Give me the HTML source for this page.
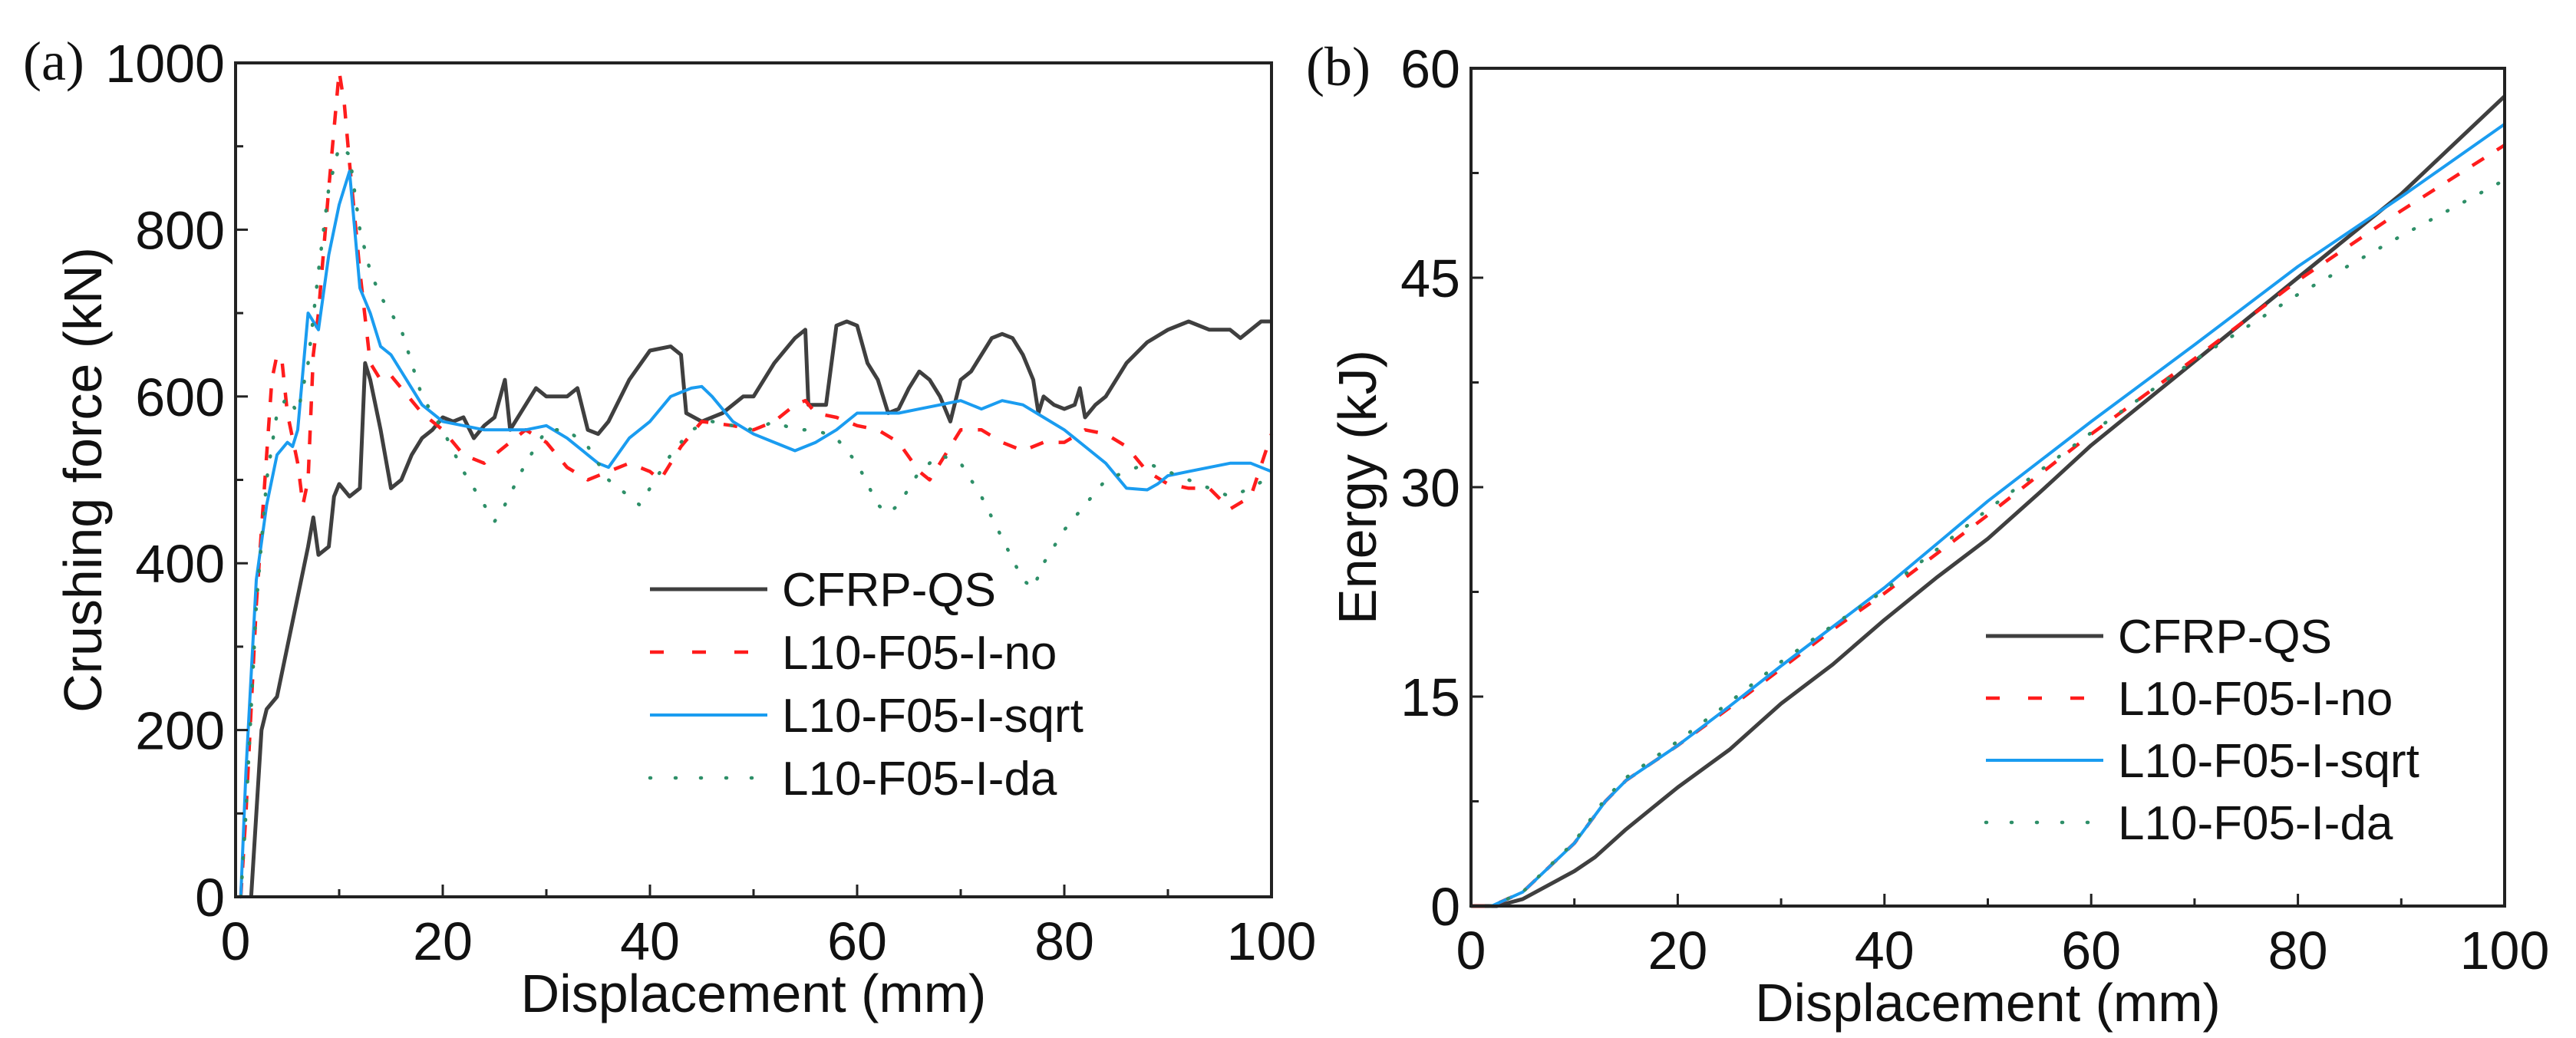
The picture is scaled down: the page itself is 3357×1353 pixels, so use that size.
<!DOCTYPE html>
<html><head><meta charset="utf-8">
<style>
html,body{margin:0;padding:0;background:#fff;}
svg{display:block;}
text{font-family:"Liberation Sans",Arial,sans-serif;fill:#111;}
.serif{font-family:"Liberation Serif",serif;}
</style></head>
<body>
<svg id="fig" width="3357" height="1353" viewBox="0 0 3357 1353" xmlns="http://www.w3.org/2000/svg">
<g id="pa"></g>
<g id="pb"></g>
</svg>
<script>
// ---- Panel (a) data: crushing force (kN) vs displacement (mm) ----
const seriesNames = ["CFRP-QS","L10-F05-I-no","L10-F05-I-sqrt","L10-F05-I-da"];
const xTicks = [0,20,40,60,80,100];
const forceTicks = [0,200,400,600,800,1000];
const energyTicks = [0,15,30,45,60];

const qsX = [1.5,2.5,3,4,5,6,7,7.5,8,9,9.5,10,11,12,12.5,13,14,15,16,17,18,19,20,21,22,23,24,25,26,26.5,28,29,30,32,33,34,35,36,38,40,42,43,43.5,45,47,49,50,52,54,55,55.3,57,58,59,60,61,62,63,64,65,66,67,68,69,70,71,72,73,74,75,76,77,77.5,78,79,80,81,81.5,82,83,84,85,86,88,90,92,94,96,97,99,100];
const qsF = [0,200,225,240,300,360,420,455,410,420,480,495,480,490,640,620,560,490,500,530,550,560,575,570,575,550,565,575,620,560,590,610,600,600,610,560,555,570,620,655,660,650,580,570,580,600,600,640,670,680,590,590,685,690,685,640,620,580,585,610,630,620,600,570,620,630,650,670,675,670,650,620,580,600,590,585,590,610,575,590,600,620,640,665,680,690,680,680,670,690,690];

const noX = [0.5,1,2,3,3.5,4,4.5,5,6,6.5,7,7.5,8,9,10,10.5,11,12,13,14,15,16,18,20,22,24,26,28,30,32,34,36,38,40,41,43,45,48,50,52,54,55,56,58,60,62,64,66,67,68,70,72,74,76,78,80,82,84,86,88,90,92,94,96,98,100];
const noF = [0,100,350,530,620,650,640,580,520,470,500,650,700,850,990,950,880,750,640,620,625,610,580,560,530,520,540,560,545,515,500,510,520,510,500,540,570,565,560,570,590,595,580,575,565,560,545,510,500,520,560,560,545,535,545,545,560,555,540,510,495,490,490,465,480,555];

const sqX = [0.5,1,2,3,4,5,5.5,6,7,7.5,8,9,10,11,11.5,12,13,14,15,17,18,20,22,24,26,28,30,32,34,35,36,38,40,42,44,45,46,48,50,52,54,56,58,60,62,64,66,68,70,72,74,76,78,80,82,84,86,88,89,90,92,94,96,98,100];
const sqF = [0,150,380,470,530,545,540,560,700,690,680,770,830,870,800,730,700,660,650,610,590,570,565,560,560,560,565,550,530,520,515,550,570,600,610,612,600,570,555,545,535,545,560,580,580,580,585,590,595,585,595,590,575,560,540,520,490,488,495,505,510,515,520,520,510];

const daX = [0.5,1,2,3,4,5,6,7,8,9,10,11,12,13,14,16,18,20,22,24,25,26,28,30,32,34,36,38,39,40,42,44,46,48,50,52,54,56,58,60,62,63,64,66,68,70,72,74,76,77,78,80,82,84,86,88,90,92,94,96,98,100];
const daF = [0,100,350,500,580,600,580,640,750,850,900,890,800,750,720,680,600,560,510,470,450,470,520,560,560,540,500,480,470,490,530,560,570,565,560,570,560,560,550,520,470,460,470,510,530,520,480,430,380,370,400,440,470,500,510,520,510,500,490,480,490,505];

// ---- Panel (b) data: energy (kJ) vs displacement (mm) ----
const eqsX = [0,2.5,5,10,12,15,20,25,30,35,40,45,50,55,60,65,70,75,80,85,90,95,100];
const eqsE = [0,0,0.5,2.5,3.5,5.5,8.5,11.2,14.5,17.3,20.5,23.5,26.3,29.6,33,36,39,42,45,48,51,54.5,58];
const enoX = [0,2,5,10,13,15,20,25,30,35,40,50,60,70,80,90,100];
const enoE = [0,0,1,4.5,7.5,9,11.5,14.2,17,19.8,22.4,28,33.8,39.2,44.8,49.8,54.5];
const esqX = [0,2,5,10,13,15,20,25,30,35,40,45,50,60,70,80,90,100];
const esqE = [0,0,1,4.5,7.5,9,11.5,14.3,17.2,20,22.8,25.9,29,34.7,40.2,45.8,50.8,56];
const edaX = [0,2,5,10,13,15,20,25,30,35,40,50,60,70,80,90,100];
const edaE = [0,0,1,4.6,7.7,9.2,11.8,14.6,17.5,20.1,22.6,28.4,33.9,39.1,43.8,48,52];

const NS = "http://www.w3.org/2000/svg";
function mk(tag, attrs, parent){const e=document.createElementNS(NS,tag);for(const k in attrs)e.setAttribute(k,attrs[k]);parent.appendChild(e);return e;}

const styles = [
  {stroke:"#3f3f3f", w:5, dash:null},
  {stroke:"#ff1c1c", w:4.5, dash:"18 20"},
  {stroke:"#1a9cf0", w:4, dash:null},
  {stroke:"#2e8f68", w:4.5, dash:"1 24", cap:"round"}
];

function panel(g, box, ymax, yTicks, yMinorStep, xs, ys, ytitle, label, legend, labelX, titleX){
  const sx = v => box.x0 + (v/100)*(box.x1-box.x0);
  const sy = v => box.y1 - (v/ymax)*(box.y1-box.y0);
  // series
  for(let i=0;i<xs.length;i++){
    const d = xs[i].map((x,j)=>(j?"L":"M")+sx(x).toFixed(1)+" "+sy(ys[i][j]).toFixed(1)).join(" ");
    const st = styles[i];
    const p = mk("path",{d:d,fill:"none",stroke:st.stroke,"stroke-width":st.w,"stroke-linejoin":"round","stroke-linecap":st.cap||"butt"},g);
    if(st.dash) p.setAttribute("stroke-dasharray",st.dash);
    
    
  }
  // frame
  const f = mk("rect",{x:box.x0,y:box.y0,width:box.x1-box.x0,height:box.y1-box.y0,fill:"none",stroke:"#222","stroke-width":4},g);
  
  
  // x ticks
  for(let v=0;v<=100;v+=10){
    const major = v%20===0;
    const t = mk("line",{x1:sx(v),x2:sx(v),y1:box.y1,y2:box.y1-(major?16:10),stroke:"#222","stroke-width":3},g);
    
    
  }
  xTicks.forEach(v=>{
    const t = mk("text",{x:sx(v),y:box.y1+82,"font-size":70,"text-anchor":"middle"},g);
    t.textContent=v;
    
    
  });
  // y ticks
  for(let v=0;v<=ymax+1e-6;v+=yMinorStep){
    const major = yTicks.some(t=>Math.abs(t-v)<1e-6);
    const t = mk("line",{x1:box.x0,x2:box.x0+(major?16:10),y1:sy(v),y2:sy(v),stroke:"#222","stroke-width":3},g);
    
    
  }
  yTicks.forEach(v=>{
    const t = mk("text",{x:box.x0-14,y:sy(v)+25,"font-size":70,"text-anchor":"end"},g);
    t.textContent=v;
    
    
  });
  const xt = mk("text",{x:(box.x0+box.x1)/2,y:box.y1+150,"font-size":70,"text-anchor":"middle"},g);
  xt.textContent="Displacement (mm)";
  
  
  const yc=(box.y0+box.y1)/2;
  const yt = mk("text",{x:titleX,y:yc,"font-size":70,"text-anchor":"middle",transform:`rotate(-90 ${titleX} ${yc})`,"dominant-baseline":"central"},g);
  yt.textContent=ytitle;
  
  
  const pl = mk("text",{x:labelX,y:box.y0+22,"font-size":72,"class":"serif"},g);
  pl.textContent=label;
  
  
  // legend
  seriesNames.forEach((n,i)=>{
    const y = legend.y + i*legend.dy;
    const st = styles[i];
    const l = mk("line",{x1:legend.x,x2:legend.x+153,y1:y,y2:y,stroke:st.stroke,"stroke-width":st.w,"stroke-linecap":st.cap||"butt"},g);
    if(st.dash) l.setAttribute("stroke-dasharray", i===3?"1 32":"18 37");
    
    
    const t = mk("text",{x:legend.x+172,y:y+22,"font-size":62},g);
    t.textContent=n;
    
    
  });
}

panel(document.getElementById("pa"), {x0:307,x1:1657,y0:82,y1:1169}, 1000, forceTicks, 100,
  [qsX,noX,sqX,daX],[qsF,noF,sqF,daF],"Crushing force (kN)","(a)",{x:847,y:768,dy:82},30,108);
panel(document.getElementById("pb"), {x0:1917,x1:3264,y0:89,y1:1181}, 60, energyTicks, 7.5,
  [eqsX,enoX,esqX,edaX],[eqsE,enoE,esqE,edaE],"Energy (kJ)","(b)",{x:2588,y:829,dy:81},1702,1769);
</script>
</body></html>
